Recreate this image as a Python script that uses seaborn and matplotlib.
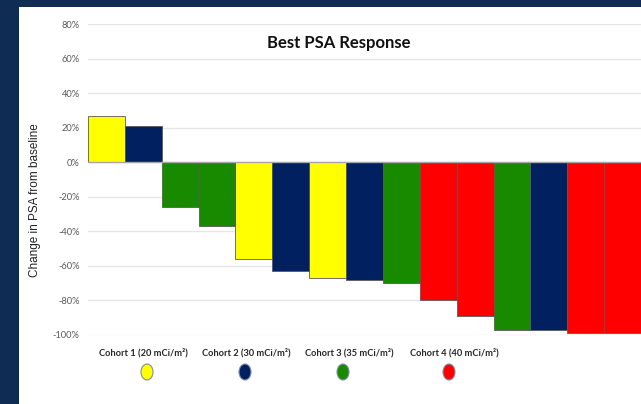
import matplotlib
matplotlib.use("Agg")
import matplotlib.pyplot as plt
from matplotlib.patches import Ellipse, Rectangle
import seaborn as sns
import pandas as pd

# Best PSA change per patient (%), waterfall order
patients = list(range(1, 16))
psa_change = [27, 21, -26, -37, -56, -63, -67, -68, -70, -80, -89, -97, -97, -99, -99]
cohort = ["C1", "C2", "C3", "C3", "C1", "C2", "C1", "C2", "C3", "C4", "C4", "C3", "C2", "C4", "C4"]

cohort_keys = ["C1", "C2", "C3", "C4"]
cohort_labels = ["Cohort 1 (20 mCi/m²)", "Cohort 2 (30 mCi/m²)",
                 "Cohort 3 (35 mCi/m²)", "Cohort 4 (40 mCi/m²)"]
cohort_colors = ["#FFFF00", "#002060", "#178A00", "#FF0000"]
y_ticks = [80, 60, 40, 20, 0, -20, -40, -60, -80, -100]

df = pd.DataFrame({"patient": patients, "change": psa_change, "cohort": cohort})

sns.set_theme(style="white")
plt.rcParams["font.family"] = ["Lato", "DejaVu Sans"]

W, H = 641, 404
fig = plt.figure(figsize=(W / 100, H / 100), dpi=100)
fig.patch.set_facecolor("#0F2C54")

# white slide panel
bg = fig.add_axes([0, 0, 1, 1], zorder=0)
bg.set_xlim(0, W)
bg.set_ylim(H, 0)
bg.axis("off")
bg.add_patch(Rectangle((19, 7), W - 19, H - 7, facecolor="white", edgecolor="none"))

ax = fig.add_axes([88 / W, (H - 335) / H, (W - 88) / W, 311 / H], zorder=1)
ax.set_facecolor("none")
sns.barplot(data=df, x="patient", y="change", hue="cohort", hue_order=cohort_keys,
            palette=dict(zip(cohort_keys, cohort_colors)), dodge=False, width=1.0,
            saturation=1, edgecolor="#5a5a5a", linewidth=0.6, legend=False,
            ax=ax, zorder=3)

ax.set_ylim(-100, 80)
ax.set_xlim(-0.5, 14.5)
ax.set_yticks(y_ticks)
ax.set_yticklabels([f"{v}%" for v in y_ticks], color="#595959", fontsize=6.7)
ax.tick_params(axis="y", length=0, pad=6)
ax.set_xticks([])
ax.set_xlabel("")
ax.set_ylabel("")
for s in ax.spines.values():
    s.set_visible(False)
ax.grid(axis="y", color="#E6E6E6", linewidth=1.0, zorder=0)
ax.axhline(0, color="#A6A6A6", linewidth=1.0, zorder=4)

fig.text(35 / W, 1 - 200 / H, "Change in PSA from baseline", rotation=90,
         ha="center", va="center", fontsize=8.5, color="#222222",
         family=["Liberation Sans", "DejaVu Sans"])
fig.text(339 / W, 1 - 43 / H, "Best PSA Response", ha="center", va="center",
         fontsize=12, fontweight="bold", color="#111111")

# cohort key below the chart
text_x = [143, 246, 349, 454]
dot_x = [147, 245, 343, 449]
for lbl, col, tx, dx in zip(cohort_labels, cohort_colors, text_x, dot_x):
    bg.text(tx, 353, lbl, ha="center", va="center", fontsize=6.7,
            fontweight="bold", color="#262626")
    bg.add_patch(Ellipse((dx, 372), 12, 16, facecolor=col,
                         edgecolor="#7f8fa6", linewidth=0.8))

fig.savefig("out.png", dpi=100, facecolor=fig.get_facecolor())
